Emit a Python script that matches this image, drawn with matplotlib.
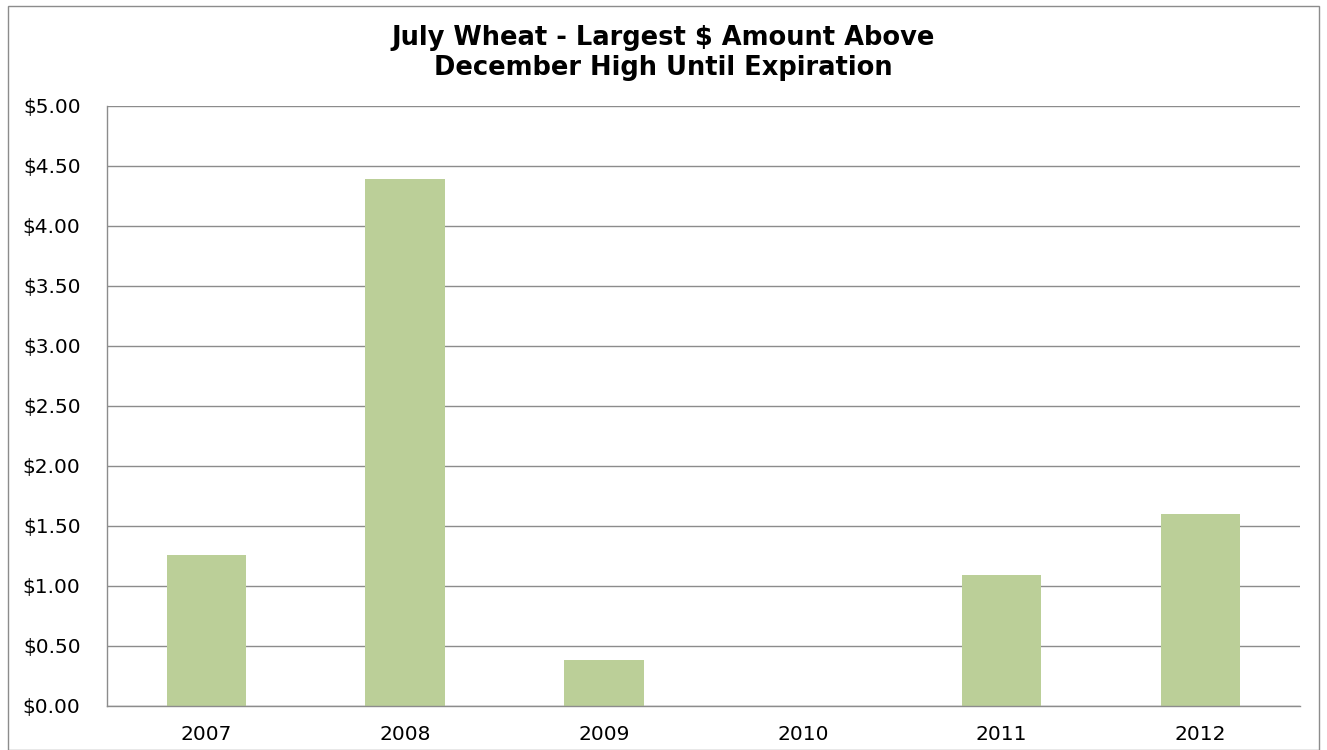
import matplotlib.pyplot as plt
from matplotlib.patches import Rectangle
from matplotlib.ticker import FuncFormatter, MultipleLocator

years = ["2007", "2008", "2009", "2010", "2011", "2012"]
amounts = [1.26, 4.39, 0.38, 0.0, 1.09, 1.60]

plt.rcParams['font.family'] = ['DejaVu Sans']

fig = plt.figure(figsize=(13.27, 7.5), dpi=100)
ax = fig.add_axes([0.0806, 0.0587, 0.899, 0.80])

x = range(len(years))
ax.bar(x, amounts, width=0.4, color="#BBCF98", zorder=2)

ax.set_xlim(-0.5, len(years) - 0.5)
ax.set_ylim(0, 5)
ax.yaxis.set_major_locator(MultipleLocator(0.5))
ax.yaxis.set_major_formatter(FuncFormatter(lambda v, p: "${:.2f}".format(v)))
ax.set_xticks(list(x))
ax.set_xticklabels(years)
ax.tick_params(axis="both", length=0, labelsize=14.5, colors="black")
ax.tick_params(axis="x", pad=14)
ax.tick_params(axis="y", pad=19)

ax.grid(axis="y", color="#8C8C8C", linewidth=1.0, zorder=0)
for s in ["top", "right"]:
    ax.spines[s].set_visible(False)
for s in ["left", "bottom"]:
    ax.spines[s].set_color("#8C8C8C")
    ax.spines[s].set_linewidth(1.0)

fig.text(0.5, 0.929, "July Wheat - Largest $ Amount Above\nDecember High Until Expiration",
         ha="center", va="center", fontsize=18.5, fontweight="bold", linespacing=1.2)

fig.patches.append(Rectangle((0.006, 0.0), 0.988, 0.992, transform=fig.transFigure,
                             fill=False, edgecolor="#8C8C8C", linewidth=1.0))

fig.savefig("out.png", dpi=100)
